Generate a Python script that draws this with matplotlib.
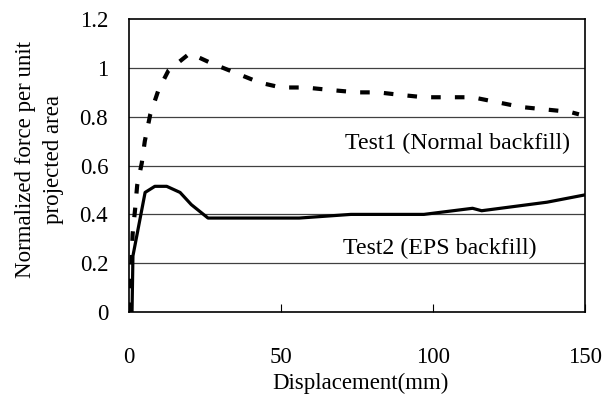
import numpy as np
import matplotlib
matplotlib.use("Agg")
import matplotlib.pyplot as plt

# Test1 (normal backfill) - dashed curve
test1_x = [0, 0.5, 1.2, 2.0, 2.7, 4.2, 5.2, 7.0, 9.7, 13, 20, 27, 35, 43, 50,
           58, 66, 75, 82, 89, 97, 105, 113, 121, 129, 137, 145, 148]
test1_y = [0, 0.10, 0.32, 0.42, 0.52, 0.61, 0.70, 0.81, 0.91, 0.99, 1.06, 1.02,
           0.98, 0.94, 0.92, 0.92, 0.91, 0.90, 0.90, 0.89, 0.88, 0.88, 0.88,
           0.86, 0.84, 0.83, 0.82, 0.81]

# Test2 (EPS backfill) - solid curve
test2_x = [0.5, 1.0, 1.3, 5.3, 8.5, 12.4, 16.8, 20.5, 26, 40, 56, 73, 97, 113,
           116, 137.5, 150]
test2_y = [0, 0, 0.23, 0.49, 0.515, 0.515, 0.49, 0.44, 0.385, 0.385, 0.385,
           0.40, 0.40, 0.425, 0.415, 0.45, 0.48]

x_ticks = [0, 50, 100, 150]
y_ticks = [0, 0.2, 0.4, 0.6, 0.8, 1, 1.2]
y_tick_labels = ["0", "0.2", "0.4", "0.6", "0.8", "1", "1.2"]

plt.rcParams['font.family'] = ['Liberation Serif', 'DejaVu Serif']

fig = plt.figure(figsize=(6.16, 3.99), dpi=100)
ax = fig.add_axes([0.2094, 0.218, 0.7403, 0.734])

for yv in y_ticks[1:-1]:
    ax.axhline(yv, color='#404040', linewidth=0.9, zorder=1)

ax.plot(test1_x, test1_y, color='black', linewidth=3.0,
        linestyle=(0, (2.3, 3.4)), zorder=3)
ax.plot(test2_x, test2_y, color='black', linewidth=2.3, zorder=3)

ax.set_xlim(0, 150)
ax.set_ylim(0, 1.2)
ax.set_xticks(x_ticks)
ax.set_yticks(y_ticks)
ax.set_yticklabels(y_tick_labels)
ax.tick_params(axis='x', direction='in', length=6, width=0.8, pad=25,
               labelsize=16.5)
ax.tick_params(axis='y', length=0, pad=15, labelsize=16.5)
for s in ax.spines.values():
    s.set_linewidth(1.2)

ax.set_xlabel("Displacement(mm)", fontsize=16.5, va='center')
ax.xaxis.set_label_coords(0.507, -0.245)
ax.set_ylabel("Normalized force per unit\nprojected area", fontsize=16.5,
              va='center', linespacing=1.45)
ax.yaxis.set_label_coords(-0.197, 0.52)

ax.text(145, 0.69, "Test1 (Normal backfill)", fontsize=17.2, ha='right',
        va='center')
ax.text(70.4, 0.262, "Test2 (EPS backfill)", fontsize=17.2, ha='left',
        va='center')

fig.savefig("out.png", dpi=100)
